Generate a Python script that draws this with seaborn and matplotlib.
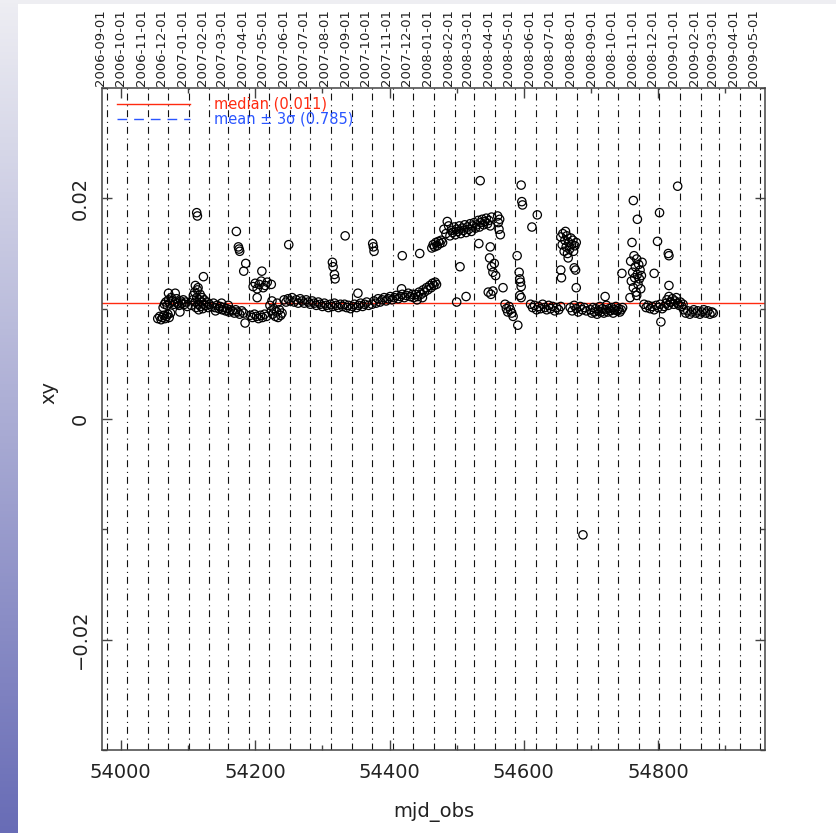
import numpy as np
import pandas as pd
import matplotlib
matplotlib.use("Agg")
import matplotlib.pyplot as plt
import seaborn as sns
from matplotlib.ticker import MultipleLocator
from matplotlib.lines import Line2D
from matplotlib.patches import Rectangle

# ---------------- data (mjd_obs, xy) ----------------
seg_2006_12 = [
    (54055, 0.0091), (54058, 0.0093), (54060, 0.0090), (54062, 0.0092), (54064, 0.0094),
    (54066, 0.0091), (54068, 0.0093), (54070, 0.0095), (54072, 0.0092), (54074, 0.0096),
    (54063, 0.0101), (54065, 0.0104), (54067, 0.0106), (54069, 0.0103), (54071, 0.0108),
    (54073, 0.0105), (54075, 0.0110), (54077, 0.0107), (54079, 0.0104), (54081, 0.0106),
    (54083, 0.0109), (54085, 0.0105), (54087, 0.0103), (54089, 0.0107), (54091, 0.0105),
    (54093, 0.0108), (54095, 0.0104), (54097, 0.0106), (54099, 0.0102),
    (54071, 0.0114), (54081, 0.0114), (54088, 0.0097),
]
seg_2007_01 = [
    (54105, 0.0103), (54107, 0.0108), (54108, 0.0112), (54110, 0.0115), (54111, 0.0106),
    (54112, 0.0101), (54113, 0.0110), (54114, 0.0117), (54115, 0.0104), (54116, 0.0099),
    (54117, 0.0108), (54118, 0.0113), (54119, 0.0102), (54120, 0.0106), (54121, 0.0110),
    (54122, 0.0100), (54123, 0.0104), (54124, 0.0108), (54126, 0.0103), (54128, 0.0106),
    (54130, 0.0101), (54111, 0.0121), (54115, 0.0119), (54123, 0.0129),
    (54113, 0.0187), (54114, 0.0184),
]
seg_2007_03 = [
    (54132, 0.0104), (54135, 0.0102), (54138, 0.0105), (54140, 0.0101), (54143, 0.0103),
    (54146, 0.0100), (54148, 0.0102), (54151, 0.0099), (54153, 0.0101), (54156, 0.0098),
    (54158, 0.0100), (54161, 0.0097), (54163, 0.0099), (54166, 0.0098), (54169, 0.0096),
    (54171, 0.0099), (54174, 0.0097), (54177, 0.0095), (54180, 0.0098), (54183, 0.0096),
    (54141, 0.0098), (54150, 0.0105), (54160, 0.0103),
    (54172, 0.0170), (54175, 0.0156), (54176, 0.0154), (54177, 0.0152),
    (54186, 0.0141), (54183, 0.0134), (54185, 0.0087),
]
seg_2007_04 = [
    (54197, 0.0120), (54200, 0.0123), (54203, 0.0118), (54206, 0.0122), (54209, 0.0125),
    (54212, 0.0119), (54215, 0.0121), (54218, 0.0124), (54210, 0.0134), (54203, 0.0110),
    (54193, 0.0094), (54196, 0.0092), (54199, 0.0095), (54202, 0.0093), (54205, 0.0091),
    (54208, 0.0094), (54211, 0.0092), (54214, 0.0095), (54217, 0.0093),
    (54224, 0.0122), (54222, 0.0103), (54224, 0.0098), (54226, 0.0095), (54228, 0.0100),
    (54230, 0.0093), (54232, 0.0097), (54234, 0.0092), (54236, 0.0099), (54238, 0.0094),
    (54240, 0.0096), (54225, 0.0107), (54233, 0.0105), (54250, 0.0158),
]
seg_2007_06 = [
    (54243, 0.0108), (54246, 0.0106), (54249, 0.0109), (54252, 0.0107), (54255, 0.0110),
    (54258, 0.0106), (54261, 0.0108), (54264, 0.0105), (54267, 0.0109), (54270, 0.0107),
    (54273, 0.0105), (54276, 0.0108), (54279, 0.0106), (54282, 0.0104), (54285, 0.0107),
    (54288, 0.0105), (54291, 0.0103), (54294, 0.0106), (54297, 0.0104), (54300, 0.0102),
    (54303, 0.0105), (54306, 0.0103), (54309, 0.0101), (54312, 0.0104), (54315, 0.0102),
    (54318, 0.0105), (54321, 0.0103), (54324, 0.0101), (54327, 0.0104),
    (54315, 0.0142), (54316, 0.0138), (54318, 0.0131), (54319, 0.0127),
]
seg_2007_08 = [
    (54334, 0.0166), (54353, 0.0114),
    (54330, 0.0102), (54333, 0.0104), (54336, 0.0101), (54339, 0.0103), (54342, 0.0100),
    (54345, 0.0102), (54348, 0.0104), (54351, 0.0101), (54354, 0.0103), (54357, 0.0105),
    (54360, 0.0102), (54363, 0.0104), (54366, 0.0106), (54369, 0.0103),
    (54375, 0.0159), (54376, 0.0156), (54377, 0.0152),
]
seg_2007_10 = [
    (54374, 0.0104), (54377, 0.0107), (54380, 0.0105), (54383, 0.0109), (54386, 0.0106),
    (54389, 0.0108), (54392, 0.0110), (54395, 0.0107), (54398, 0.0109), (54401, 0.0111),
    (54404, 0.0108), (54407, 0.0110), (54410, 0.0112), (54413, 0.0109), (54416, 0.0111),
    (54419, 0.0113), (54422, 0.0110), (54425, 0.0112), (54428, 0.0114), (54431, 0.0111),
    (54434, 0.0113), (54418, 0.0118), (54419, 0.0148), (54445, 0.0150),
]
seg_2007_12 = [
    (54436, 0.0110), (54439, 0.0113), (54442, 0.0111), (54444, 0.0115), (54447, 0.0113),
    (54450, 0.0117), (54452, 0.0115), (54455, 0.0119), (54457, 0.0117), (54460, 0.0121),
    (54462, 0.0119), (54464, 0.0123), (54466, 0.0121), (54468, 0.0124), (54470, 0.0122),
    (54441, 0.0108), (54449, 0.0110),
    (54463, 0.0155), (54465, 0.0158), (54467, 0.0156), (54469, 0.0160), (54471, 0.0157),
    (54473, 0.0161), (54475, 0.0159), (54477, 0.0162), (54479, 0.0160),
]
seg_2008_02 = [
    (54481, 0.0172), (54484, 0.0168), (54486, 0.0179), (54488, 0.0175), (54490, 0.0166),
    (54492, 0.0171), (54494, 0.0169), (54496, 0.0174), (54498, 0.0167), (54500, 0.0172),
    (54502, 0.0170), (54504, 0.0175), (54506, 0.0168), (54508, 0.0173), (54510, 0.0171),
    (54512, 0.0176), (54514, 0.0169), (54516, 0.0174), (54518, 0.0172), (54520, 0.0177),
    (54522, 0.0170), (54524, 0.0175), (54526, 0.0178), (54528, 0.0173), (54530, 0.0176),
    (54532, 0.0180), (54534, 0.0174), (54536, 0.0178), (54538, 0.0181), (54540, 0.0176),
    (54542, 0.0179), (54544, 0.0182), (54546, 0.0177), (54548, 0.0180), (54550, 0.0175),
    (54552, 0.0183), (54535, 0.0216),
    (54505, 0.0138), (54500, 0.0106), (54514, 0.0111), (54533, 0.0159), (54550, 0.0156),
    (54547, 0.0115), (54551, 0.0113), (54554, 0.0116),
    (54549, 0.0146), (54552, 0.0138), (54554, 0.0133), (54556, 0.0141), (54558, 0.0130),
]
seg_2008_04 = [
    (54561, 0.0184), (54562, 0.0178), (54563, 0.0172), (54565, 0.0167), (54564, 0.0181),
    (54569, 0.0119),
    (54572, 0.0104), (54574, 0.0100), (54576, 0.0097), (54578, 0.0102), (54580, 0.0099),
    (54582, 0.0096), (54584, 0.0093), (54591, 0.0085),
    (54590, 0.0148), (54593, 0.0133), (54594, 0.0127), (54595, 0.0124), (54596, 0.0120),
    (54594, 0.0112), (54596, 0.0110),
    (54596, 0.0212), (54597, 0.0197), (54598, 0.0194), (54620, 0.0185), (54612, 0.0174),
]
seg_2008_06 = [
    (54610, 0.0104), (54613, 0.0101), (54616, 0.0103), (54619, 0.0099), (54622, 0.0102),
    (54625, 0.0100), (54628, 0.0104), (54631, 0.0101), (54634, 0.0099), (54637, 0.0103),
    (54640, 0.0100), (54643, 0.0102), (54646, 0.0098), (54649, 0.0101), (54652, 0.0099),
    (54655, 0.0102),
    (54669, 0.0101), (54672, 0.0098), (54675, 0.0103), (54678, 0.0100), (54681, 0.0097),
    (54684, 0.0102), (54687, 0.0099), (54690, 0.0101), (54693, 0.0098),
]
seg_2008_07 = [
    (54655, 0.0165), (54657, 0.0158), (54658, 0.0168), (54660, 0.0152), (54661, 0.0162),
    (54663, 0.0156), (54664, 0.0166), (54665, 0.0150), (54667, 0.0160), (54668, 0.0154),
    (54670, 0.0164), (54671, 0.0158), (54673, 0.0162), (54674, 0.0152), (54676, 0.0157),
    (54678, 0.0160), (54662, 0.0170), (54666, 0.0146),
    (54655, 0.0135), (54656, 0.0128), (54675, 0.0137), (54677, 0.0135), (54678, 0.0119),
    (54688, -0.0105),
]
seg_2008_09 = [
    (54699, 0.0099), (54701, 0.0096), (54703, 0.0101), (54705, 0.0097), (54707, 0.0100),
    (54709, 0.0095), (54711, 0.0098), (54713, 0.0102), (54715, 0.0097), (54717, 0.0100),
    (54719, 0.0096), (54721, 0.0099), (54723, 0.0103), (54725, 0.0097), (54727, 0.0100),
    (54729, 0.0098), (54731, 0.0101), (54733, 0.0096), (54735, 0.0099), (54737, 0.0102),
    (54739, 0.0098), (54741, 0.0100), (54743, 0.0097), (54745, 0.0099), (54747, 0.0101),
    (54721, 0.0111), (54746, 0.0132),
]
seg_2008_10 = [
    (54759, 0.0143), (54760, 0.0125), (54761, 0.0160), (54762, 0.0133), (54763, 0.0119),
    (54764, 0.0148), (54765, 0.0128), (54766, 0.0138), (54767, 0.0115), (54768, 0.0145),
    (54769, 0.0131), (54770, 0.0122), (54771, 0.0140), (54772, 0.0127), (54773, 0.0135),
    (54774, 0.0118), (54775, 0.0130), (54776, 0.0142), (54758, 0.0110), (54768, 0.0112),
    (54763, 0.0198), (54769, 0.0181),
]
seg_2008_11 = [
    (54779, 0.0104), (54782, 0.0101), (54785, 0.0103), (54788, 0.0100), (54791, 0.0102),
    (54794, 0.0099), (54797, 0.0103), (54800, 0.0101), (54803, 0.0104), (54806, 0.0100),
    (54809, 0.0102), (54812, 0.0105), (54815, 0.0103), (54818, 0.0106),
    (54794, 0.0132), (54799, 0.0161), (54802, 0.0187), (54804, 0.0088),
    (54815, 0.0150), (54816, 0.0148), (54816, 0.0121), (54829, 0.0211),
]
seg_2008_12 = [
    (54813, 0.0108), (54816, 0.0111), (54819, 0.0106), (54821, 0.0109), (54823, 0.0104),
    (54825, 0.0107), (54827, 0.0110), (54829, 0.0105), (54831, 0.0103), (54833, 0.0106),
    (54835, 0.0102), (54837, 0.0104),
    (54838, 0.0099), (54841, 0.0096), (54844, 0.0098), (54847, 0.0095), (54850, 0.0097),
    (54853, 0.0099), (54856, 0.0096), (54859, 0.0098), (54862, 0.0095), (54865, 0.0097),
    (54868, 0.0099), (54871, 0.0096), (54874, 0.0098), (54877, 0.0095), (54880, 0.0097),
    (54882, 0.0096),
]

median_value = 0.0105
legend_labels = ["median (0.011)", "mean \u00b1 3\u03c3 (0.785)"]

month_labels = [
    "2006-09-01", "2006-10-01", "2006-11-01", "2006-12-01",
    "2007-01-01", "2007-02-01", "2007-03-01", "2007-04-01", "2007-05-01", "2007-06-01",
    "2007-07-01", "2007-08-01", "2007-09-01", "2007-10-01", "2007-11-01", "2007-12-01",
    "2008-01-01", "2008-02-01", "2008-03-01", "2008-04-01", "2008-05-01", "2008-06-01",
    "2008-07-01", "2008-08-01", "2008-09-01", "2008-10-01", "2008-11-01", "2008-12-01",
    "2009-01-01", "2009-02-01", "2009-03-01", "2009-04-01", "2009-05-01",
]
y_ticks = [-0.02, 0.0, 0.02]
y_tick_labels = ["\u22120.02", "0", "0.02"]

segments = [seg_2006_12, seg_2007_01, seg_2007_03, seg_2007_04, seg_2007_06, seg_2007_08,
            seg_2007_10, seg_2007_12, seg_2008_02, seg_2008_04, seg_2008_06, seg_2008_07,
            seg_2008_09, seg_2008_10, seg_2008_11, seg_2008_12]
df = pd.DataFrame([p for s in segments for p in s], columns=["mjd_obs", "xy"])
month_mjd = (pd.to_datetime(month_labels) - pd.Timestamp("1858-11-17")).days.values

# ---------------- figure ----------------
plt.rcParams["lines.scale_dashes"] = False
W, H = 837, 833
fig = plt.figure(figsize=(W / 100, H / 100), dpi=100, facecolor="white")

# page decoration: left gradient strip and thin top band
strip = fig.add_axes([0, 0, 17.5 / W, 1])
top_c = np.array([238, 238, 243]) / 255
bot_c = np.array([104, 108, 182]) / 255
t = np.linspace(0, 1, 256)[:, None, None]
grad = top_c[None, None, :] * (1 - t) + bot_c[None, None, :] * t
strip.imshow(grad, aspect="auto", extent=[0, 1, 0, 1])
strip.axis("off")
fig.add_artist(Rectangle((0, 1 - 4 / H), 1, 4 / H, transform=fig.transFigure,
                         facecolor="#eeeef2", edgecolor="none", zorder=0))

ax = fig.add_axes([102 / W, 1 - 750 / H, 663 / W, 662 / H])
ax.set_facecolor("white")

red = "#ff2a10"
blue = "#2a55ff"
frame = "#444444"

for m in month_mjd:
    ax.axvline(m, color="#111111", lw=0.8, ls=(0, (5.0, 2.8, 0.8, 3.4)), zorder=1)
ax.axhline(median_value, color=red, lw=1.0, zorder=2)

sns.scatterplot(data=df, x="mjd_obs", y="xy", ax=ax, marker="o", s=36,
                facecolors="none", edgecolor="black", linewidth=0.9,
                zorder=3, legend=False)

ax.set_xlim(53972, 54959)
ax.set_ylim(-0.03, 0.03)
ax.xaxis.set_major_locator(MultipleLocator(200))
ax.xaxis.set_minor_locator(MultipleLocator(100))
ax.set_yticks(y_ticks, labels=y_tick_labels)
ax.yaxis.set_minor_locator(MultipleLocator(0.01))

for s in ax.spines.values():
    s.set_color(frame)
    s.set_linewidth(1.1)
ax.tick_params(which="both", direction="in", top=True, right=True,
               color=frame, width=1.0, labelcolor="#222222")
ax.tick_params(which="major", length=7)
ax.tick_params(which="minor", length=3.5)
ax.tick_params(axis="x", labelsize=14, pad=9)
ax.tick_params(axis="y", labelsize=14, pad=9, labelrotation=90)
for lab in ax.get_yticklabels():
    lab.set_va("center")

ax.set_xlabel("mjd_obs", fontsize=14, color="#222222", labelpad=15)
ax.set_ylabel("xy", fontsize=14, color="#222222")
ax.yaxis.set_label_coords(-0.066, 0.54)

# top axis with month labels
sec = ax.secondary_xaxis("top")
sec.set_xticks(month_mjd, labels=month_labels)
sec.tick_params(axis="x", length=0, pad=1.5, labelsize=9.5, labelrotation=90,
                labelcolor="#222222")
for lab in sec.get_xticklabels():
    lab.set_ha("right")
sec.spines["top"].set_visible(False)

handles = [Line2D([], [], color=red, lw=1.0),
           Line2D([], [], color=blue, lw=1.0, ls=(0, (7, 5)))]
ax.legend(handles, legend_labels, loc="upper left", bbox_to_anchor=(0.022, 0.987),
          frameon=False, fontsize=10.5, labelcolor=[red, blue], handlelength=5.0,
          handletextpad=1.7, labelspacing=0.0, borderpad=0.0, borderaxespad=0.0)

fig.savefig("out.png", dpi=100, facecolor="white")
